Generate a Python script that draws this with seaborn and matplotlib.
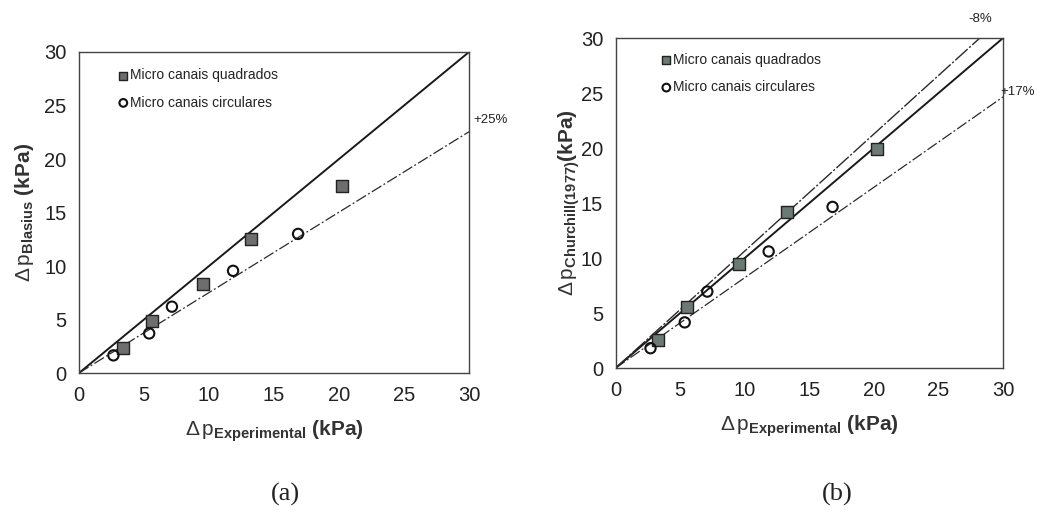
import matplotlib
matplotlib.use("Agg")
import matplotlib.pyplot as plt
import seaborn as sns
import pandas as pd

# Measured vs. predicted pressure drop (kPa)
sq_exp_a = [3.35, 5.65, 9.55, 13.25, 20.2]
sq_blasius = [2.3, 4.85, 8.35, 12.5, 17.5]
ci_exp_a = [2.65, 5.4, 7.15, 11.85, 16.85]
ci_blasius = [1.65, 3.7, 6.2, 9.55, 13.0]

sq_exp_b = [3.3, 5.55, 9.55, 13.3, 20.25]
sq_churchill = [2.55, 5.55, 9.45, 14.15, 19.9]
ci_exp_b = [2.7, 5.35, 7.1, 11.85, 16.8]
ci_churchill = [1.8, 4.15, 6.95, 10.6, 14.65]

# Reference lines (end points)
ideal_x = [0, 30]
ideal_y = [0, 30]
dev25_x = [0, 30]
dev25_y = [0, 22.55]
dev8_x = [0, 28.2]
dev8_y = [0, 30]
dev17_x = [0, 30]
dev17_y = [0, 24.65]

ticks = [0, 5, 10, 15, 20, 25, 30]
legend_labels = ["Micro canais quadrados", "Micro canais circulares"]

sns.set_theme(style="white")
plt.rcParams["font.family"] = ["Liberation Sans", "DejaVu Sans"]
plt.rcParams["mathtext.fontset"] = "custom"
plt.rcParams["mathtext.rm"] = "Liberation Sans"
plt.rcParams["mathtext.it"] = "Liberation Sans"
plt.rcParams["mathtext.bf"] = "Liberation Sans:bold"

fig = plt.figure(figsize=(10.6, 5.22), dpi=100)
ax_a = fig.add_axes([0.0745, 0.2854, 0.368, 0.615])
ax_b = fig.add_axes([0.5808, 0.295, 0.3654, 0.632])


def draw_points(ax, sx, sy, cx, cy, sq_color):
    sq = pd.DataFrame({"x": sx, "y": sy})
    ci = pd.DataFrame({"x": cx, "y": cy})
    sns.scatterplot(data=sq, x="x", y="y", ax=ax, marker="s", s=70,
                    color=sq_color, edgecolor="#222222", linewidth=1.0,
                    label=legend_labels[0], zorder=4)
    sns.scatterplot(data=ci, x="x", y="y", ax=ax, marker="o", s=55,
                    facecolor="none", edgecolor="#111111", linewidth=1.5,
                    label=legend_labels[1], zorder=4)


def style_panel(ax, anchor):
    ax.set_xlim(0, 30)
    ax.set_ylim(0, 30)
    ax.set_xticks(ticks)
    ax.set_yticks(ticks)
    ax.tick_params(direction="in", length=4, width=0.8, colors="#444444",
                   labelcolor="#222222", labelsize=14.5, pad=9)
    for sp in ax.spines.values():
        sp.set_visible(True)
        sp.set_color("#444444")
        sp.set_linewidth(1.0)
    leg = ax.legend(loc="upper left", bbox_to_anchor=anchor, frameon=False,
                    fontsize=10, handletextpad=0.1, labelspacing=0.95,
                    borderaxespad=0.2, handlelength=0.8, markerscale=0.75)
    for t in leg.get_texts():
        t.set_color("#222222")
    ax.set_xlabel(r"$\Delta\,\mathrm{p}_{\mathbf{Experimental}}$ $\mathbf{(kPa)}$",
                  fontsize=15, color="#333333", labelpad=10)


draw_points(ax_a, sq_exp_a, sq_blasius, ci_exp_a, ci_blasius, "#6e6e6e")
draw_points(ax_b, sq_exp_b, sq_churchill, ci_exp_b, ci_churchill, "#6b7a72")

# Panel (a): ideal line and +25% deviation
sns.lineplot(x=ideal_x, y=ideal_y, ax=ax_a, color="#1a1a1a", lw=1.4,
             legend=False, zorder=2)
sns.lineplot(x=dev25_x, y=dev25_y, ax=ax_a, color="#2a2a2a", lw=0.9,
             legend=False, zorder=2).lines[-1].set_dashes([9, 2, 1.5, 2])
ax_a.text(30.35, 23.6, "+25%", fontsize=9.5, color="#222222", va="center",
          ha="left", clip_on=False)
style_panel(ax_a, (0.078, 0.975))
ax_a.set_ylabel(r"$\Delta\,\mathrm{p}_{\mathbf{Blasius}}$ $\mathbf{(kPa)}$",
                fontsize=15, color="#333333", labelpad=6)

# Panel (b): ideal line, -8% and +17% deviations
sns.lineplot(x=ideal_x, y=ideal_y, ax=ax_b, color="#1a1a1a", lw=1.4,
             legend=False, zorder=2)
sns.lineplot(x=dev8_x, y=dev8_y, ax=ax_b, color="#2a2a2a", lw=1.0,
             legend=False, zorder=2).lines[-1].set_dashes([12, 1.5, 1.5, 1.5])
sns.lineplot(x=dev17_x, y=dev17_y, ax=ax_b, color="#2a2a2a", lw=0.9,
             legend=False, zorder=2).lines[-1].set_dashes([9, 2, 1.5, 2])
ax_b.text(27.3, 31.7, "-8%", fontsize=9.5, color="#222222", va="center",
          ha="left", clip_on=False)
ax_b.text(29.8, 25.1, "+17%", fontsize=9.5, color="#222222", va="center",
          ha="left", clip_on=False)
style_panel(ax_b, (0.095, 0.98))
ax_b.set_ylabel(r"$\Delta\,\mathrm{p}_{\mathbf{Churchill(1977)}}\mathbf{(kPa)}$",
                fontsize=15, color="#333333", labelpad=-1)

# Panel captions
fig.text(0.269, 0.052, "(a)", fontsize=19, family="Liberation Serif",
         ha="center", va="center", color="#222222")
fig.text(0.790, 0.052, "(b)", fontsize=19, family="Liberation Serif",
         ha="center", va="center", color="#222222")

fig.savefig("out.png", dpi=100, facecolor="white")
